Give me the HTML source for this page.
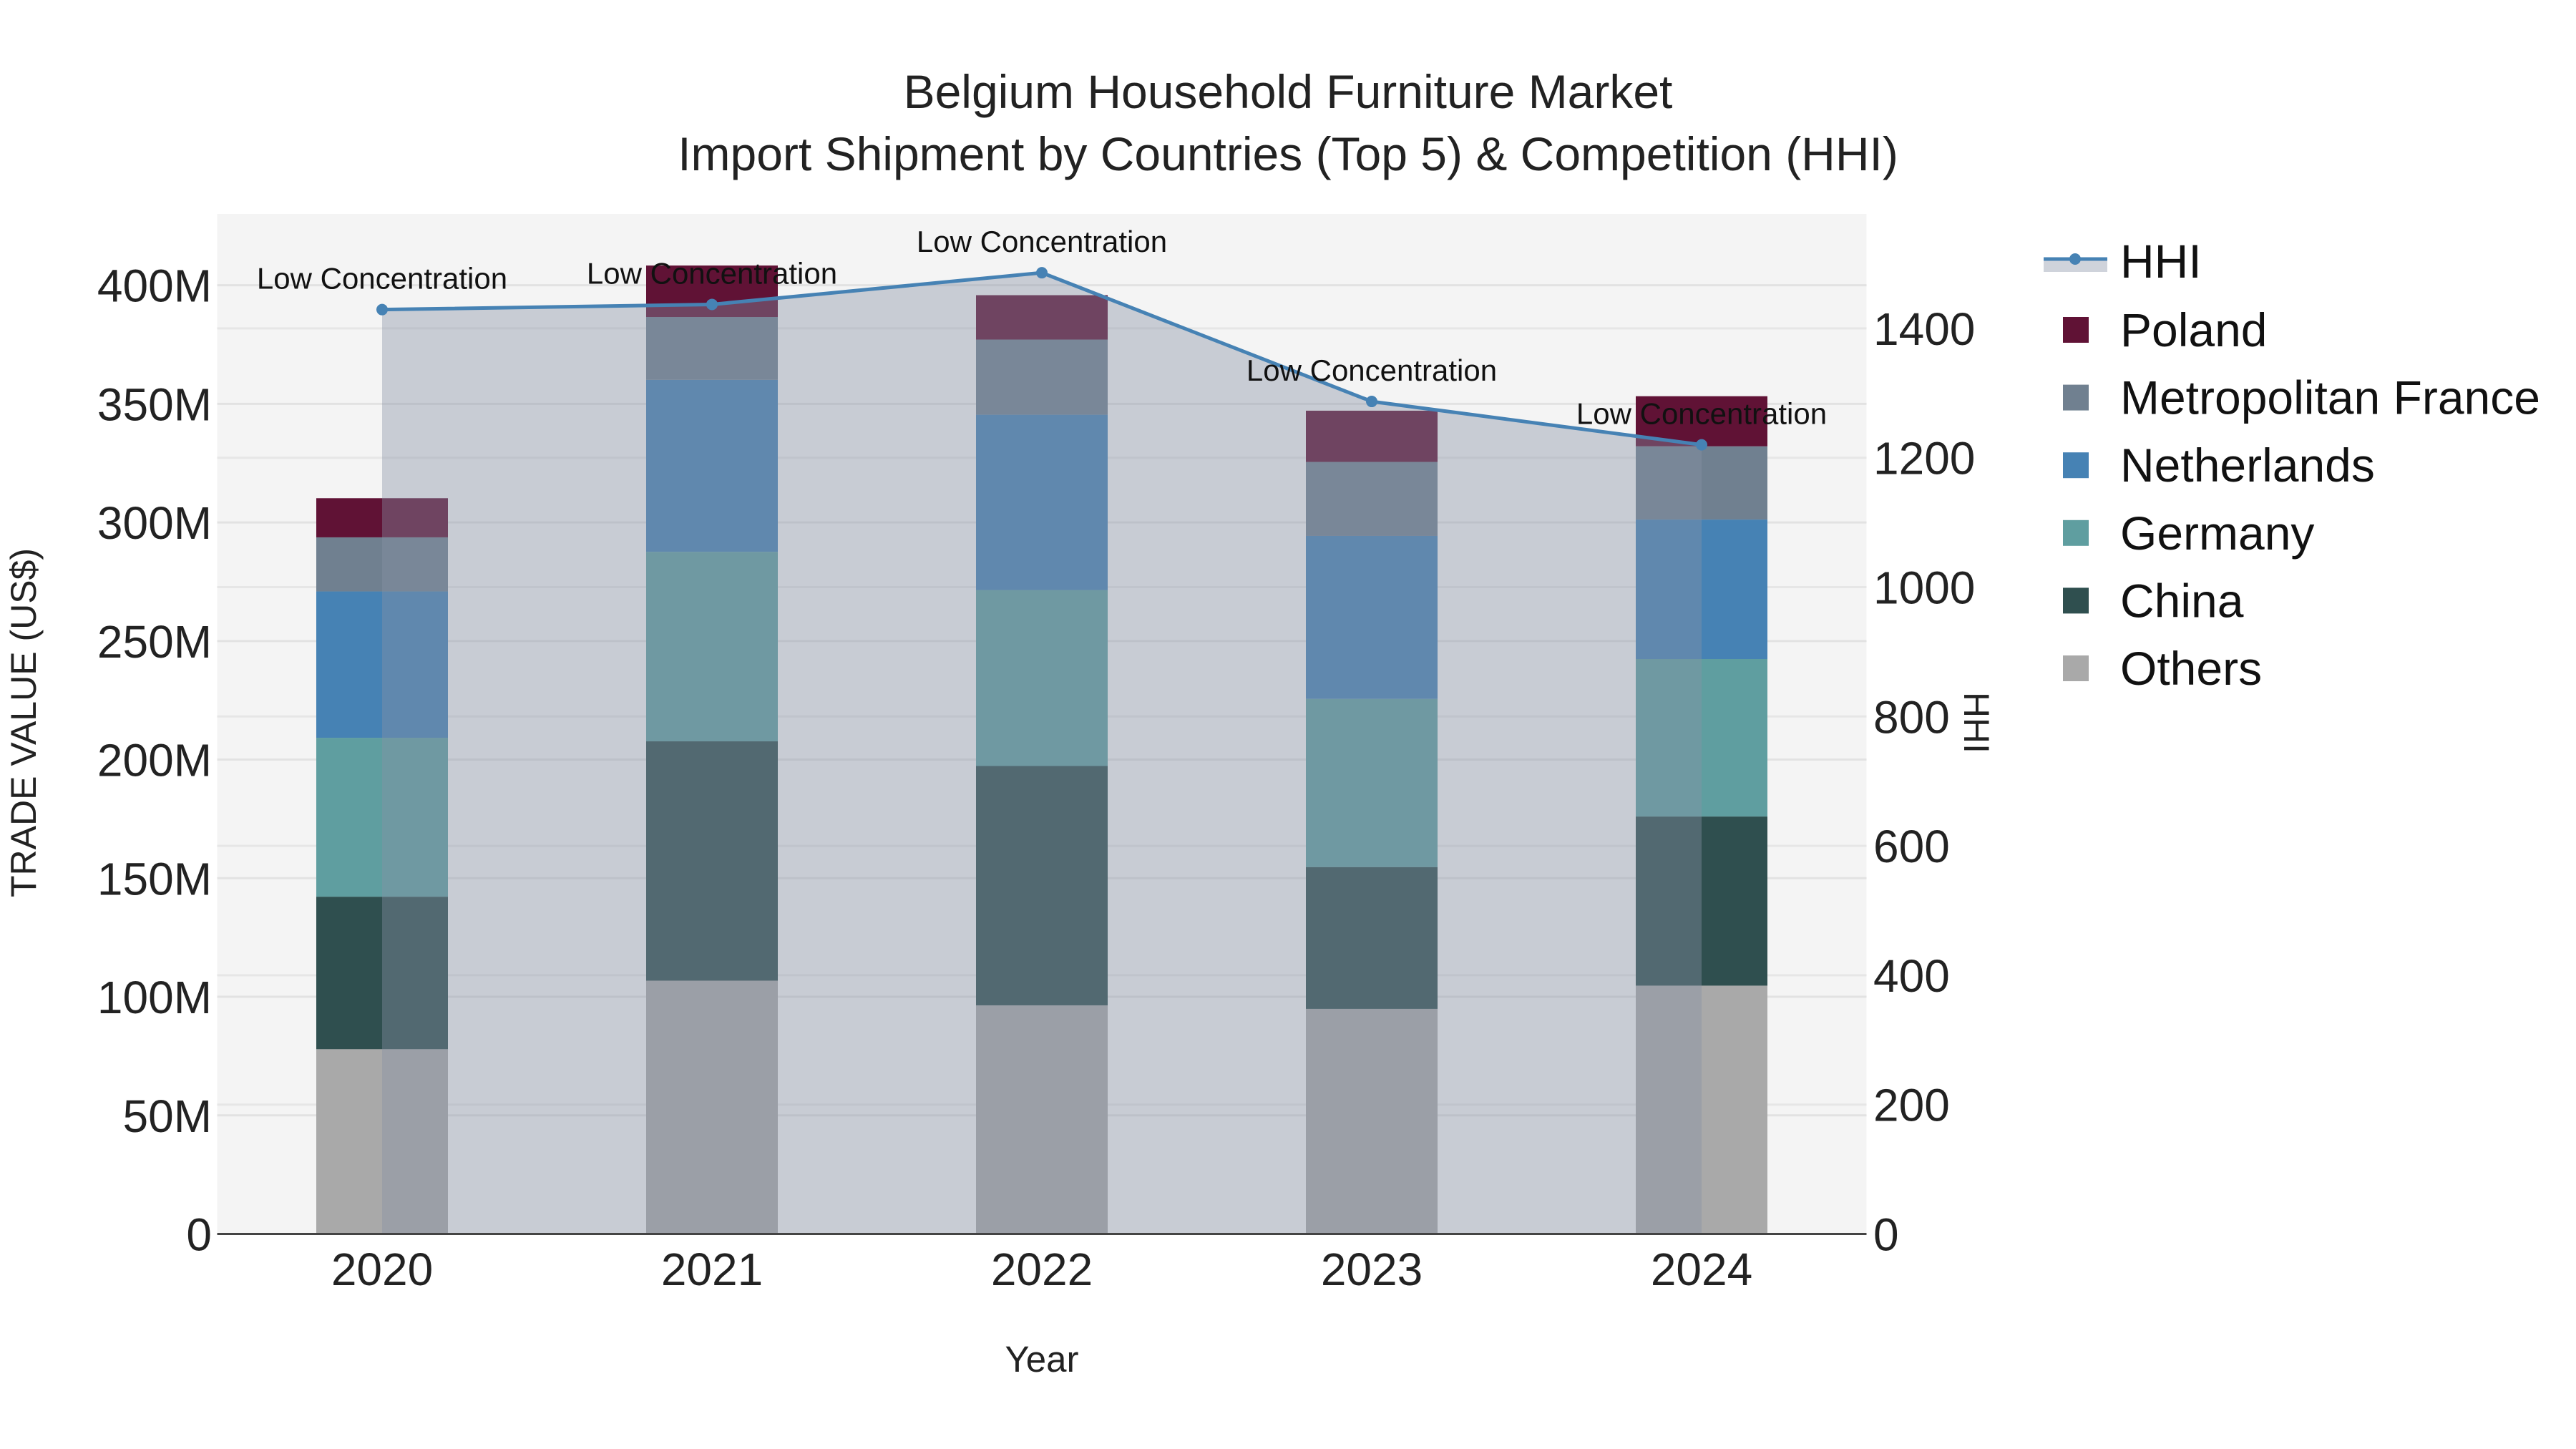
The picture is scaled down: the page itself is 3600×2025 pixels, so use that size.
<!DOCTYPE html>
<html><head><meta charset="utf-8">
<style>
html,body{margin:0;padding:0;background:#fff;}
svg{display:block;font-family:"Liberation Sans",sans-serif;}
</style></head>
<body>
<svg id="chart" width="3600" height="2025" viewBox="0 0 3600 2025" xmlns="http://www.w3.org/2000/svg">
<rect width="3600" height="2025" fill="#ffffff"/>
<text x="1800" y="151" text-anchor="middle" font-size="66" fill="#222">Belgium Household Furniture Market</text>
<text x="1800" y="238" text-anchor="middle" font-size="66" fill="#222">Import Shipment by Countries (Top 5) &amp; Competition (HHI)</text>
<rect x="303.5" y="299" width="2305" height="1425.5" fill="#f4f4f4"/>
<g id="grid"></g>
<g id="bars"></g>
<g id="hhi"></g>
<g id="axes"></g>
<text x="1456" y="1917" text-anchor="middle" font-size="51" fill="#222">Year</text>
<text transform="translate(50,1010) rotate(-90)" text-anchor="middle" font-size="50" fill="#222">TRADE VALUE (US$)</text>
<text transform="translate(2745,1010) rotate(90)" text-anchor="middle" font-size="50" fill="#222">HHI</text>
<g id="legend"></g>
</svg>
<script>
const years = ["2020","2021","2022","2023","2024"];
const seriesNames = ["Others","China","Germany","Netherlands","Metropolitan France","Poland"];
const others = [77.9, 106.8, 96.4, 94.9, 104.7];
const china = [64.3, 100.9, 100.9, 59.8, 71.3];
const germany = [67.0, 79.9, 74.2, 70.9, 66.4];
const netherlands = [61.7, 72.5, 73.9, 68.7, 58.8];
const france = [22.8, 26.5, 31.7, 31.2, 30.9];
const poland = [16.5, 21.7, 18.7, 21.6, 21.1];
const hhi = [1429, 1437, 1486, 1287, 1220];
const yTicks = [0,50,100,150,200,250,300,350,400];
const yTickLabels = ["0","50M","100M","150M","200M","250M","300M","350M","400M"];
const y2Ticks = [0,200,400,600,800,1000,1200,1400];
const hhiLabels = ["Low Concentration","Low Concentration","Low Concentration","Low Concentration","Low Concentration"];

const colors = ["#a9a9a9","#2f4f4f","#5f9ea0","#4682b4","#708090","#601235"];
const seriesData = [others, china, germany, netherlands, france, poland];
const NS = "http://www.w3.org/2000/svg";
const plotL = 303.5, plotR = 2608.5, y0 = 1724.5;
const step = (plotR - plotL) / years.length;
const xPos = i => plotL + step * (i + 0.5);
const yVal = v => y0 - v * (1325.9 / 400);
const yHHI = v => y0 - v * (180.8 / 200);
const barW = 184;
function mk(tag, attrs, parent){const e=document.createElementNS(NS,tag);for(const k in attrs)e.setAttribute(k,attrs[k]);parent.appendChild(e);return e;}

const grid = document.getElementById('grid');
yTicks.forEach(t=>{ if(t===0) return;
  const l = mk('line',{x1:plotL,x2:plotR,y1:yVal(t),y2:yVal(t),stroke:'#e2e2e2','stroke-width':3},grid);
  
  
});
y2Ticks.forEach(t=>{ if(t===0) return;
  const l = mk('line',{x1:plotL,x2:plotR,y1:yHHI(t),y2:yHHI(t),stroke:'#e6e6e6','stroke-width':3},grid);
  
  
});

const bars = document.getElementById('bars');
years.forEach((yr,i)=>{
  let base = 0;
  seriesData.forEach((s,k)=>{
    const top = base + s[i];
    const r = mk('rect',{x:xPos(i)-barW/2,y:yVal(top),width:barW,height:yVal(base)-yVal(top),fill:colors[k]},bars);
    
    
    base = top;
  });
});

const hg = document.getElementById('hhi');
let pts = hhi.map((v,i)=>xPos(i)+','+yHHI(v));
const area = mk('polygon',{points: xPos(0)+','+y0+' '+pts.join(' ')+' '+xPos(hhi.length-1)+','+y0, fill:'rgba(134,144,164,0.4)'},hg);


const line = mk('polyline',{points:pts.join(' '),fill:'none',stroke:'#4682b4','stroke-width':5},hg);


hhi.forEach((v,i)=>{
  const c = mk('circle',{cx:xPos(i),cy:yHHI(v),r:8,fill:'#4682b4'},hg);
  
  
  const t = mk('text',{x:xPos(i),y:yHHI(v)-29,'text-anchor':'middle','font-size':42,fill:'#111'},hg);
  t.textContent = hhiLabels[i];
  
  
});

const ax = document.getElementById('axes');
const zl = mk('line',{x1:plotL,x2:plotR,y1:y0,y2:y0,stroke:'#444','stroke-width':3},ax);


yTicks.forEach((t,i)=>{
  const e = mk('text',{x:296,y:yVal(t)+23,'text-anchor':'end','font-size':64,fill:'#222'},ax);
  e.textContent = yTickLabels[i];
  
  
});
y2Ticks.forEach(t=>{
  const e = mk('text',{x:2618,y:yHHI(t)+23,'text-anchor':'start','font-size':64,fill:'#222'},ax);
  e.textContent = String(t);
  
  
});
years.forEach((yr,i)=>{
  const e = mk('text',{x:xPos(i),y:1796,'text-anchor':'middle','font-size':64,fill:'#222'},ax);
  e.textContent = yr;
  
  
});

const lg = document.getElementById('legend');
const lh = mk('g',{},lg);


mk('rect',{x:2856,y:362,width:89,height:18,fill:'rgba(134,144,164,0.4)'},lh);
mk('line',{x1:2856,x2:2945,y1:362,y2:362,stroke:'#4682b4','stroke-width':5},lh);
mk('circle',{cx:2900,cy:362,r:8,fill:'#4682b4'},lh);
const ht = mk('text',{x:2963,y:388,'font-size':66,fill:'#111'},lh);
ht.textContent = 'HHI';
const order = [5,4,3,2,1,0];
order.forEach((k,j)=>{
  const cy = 461 + j*94.6;
  const g = mk('g',{},lg);
  
  
  mk('rect',{x:2883,y:cy-18,width:36,height:36,fill:colors[k]},g);
  const t = mk('text',{x:2963,y:cy+23,'font-size':66,fill:'#111'},g);
  t.textContent = seriesNames[k];
});
</script>
</body></html>
